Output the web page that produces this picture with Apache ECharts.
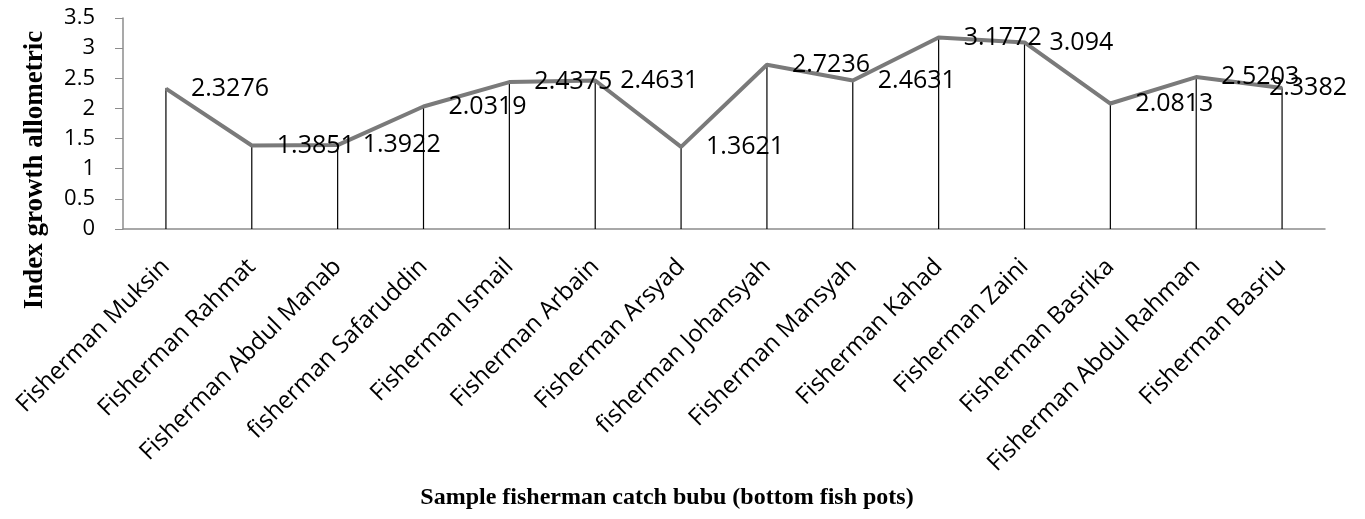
<!DOCTYPE html>
<html>
<head>
<meta charset="utf-8">
<script src="https://cdn.jsdelivr.net/npm/echarts@6/dist/echarts.min.js"></script>
<style>
  html, body { margin: 0; padding: 0; background: #fff; }
  #chart { width: 1365px; height: 519px; }
</style>
</head>
<body>
<div id="chart"></div>
<script>
// fishermen sampled (x categories)
const fishermen = [
  "Fisherman Muksin",
  "Fisherman Rahmat",
  "Fisherman Abdul Manab",
  "fisherman Safaruddin",
  "Fisherman Ismail",
  "Fisherman Arbain",
  "Fisherman Arsyad",
  "fisherman Johansyah",
  "Fisherman Mansyah",
  "Fisherman Kahad",
  "Fisherman Zaini",
  "Fisherman Basrika",
  "Fisherman Abdul Rahman",
  "Fisherman Basriu"
];

// index growth allometric (b value) per fisherman
const allometric = [
  2.3276, 1.3851, 1.3922, 2.0319, 2.4375, 2.4631, 1.3621,
  2.7236, 2.4631, 3.1772, 3.094, 2.0813, 2.5203, 2.3382
];

// y axis range
const yMin = 0;
const yMax = 3.5;
const yStep = 0.5;

const chart = echarts.init(document.getElementById("chart"));

const option = {
  animation: false,
  grid: {
    left: 123,
    right: 40,
    top: 18,
    bottom: 290
  },
  xAxis: {
    type: "category",
    data: fishermen,
    boundaryGap: true,
    axisLine: { lineStyle: { color: "#8c8c8c", width: 1.5 } },
    axisTick: { show: false },
    axisLabel: {
      interval: 0,
      rotate: 45,
      margin: 34,
      color: "#000",
      fontSize: 24,
      fontFamily: "Open Sans"
    }
  },
  yAxis: {
    type: "value",
    min: yMin,
    max: yMax,
    interval: yStep,
    axisLine: { show: true, lineStyle: { color: "#8c8c8c", width: 1.5 } },
    axisTick: { show: true, length: 8, lineStyle: { color: "#8c8c8c" } },
    splitLine: { show: false },
    axisLabel: {
      margin: 28,
      color: "#000",
      fontSize: 22,
      fontFamily: "Open Sans"
    }
  },
  graphic: [
    {
      type: "text",
      x: 35,
      y: 170,
      rotation: Math.PI / 2,
      style: {
        text: "Index growth allometric",
        fill: "#000",
        font: "bold 27px 'Liberation Serif'",
        textAlign: "center",
        textVerticalAlign: "middle"
      }
    },
    {
      type: "text",
      x: 667,
      y: 498,
      style: {
        text: "Sample fisherman catch bubu (bottom fish pots)",
        fill: "#000",
        font: "bold 24px 'Liberation Serif'",
        textAlign: "center",
        textVerticalAlign: "middle"
      }
    }
  ],
  series: [
    {
      // thin drop lines from each point down to the axis
      name: "drop",
      type: "bar",
      data: allometric,
      barWidth: 1.2,
      itemStyle: { color: "#000" },
      silent: true
    },
    {
      name: "Index growth allometric",
      type: "line",
      data: allometric,
      symbol: "circle",
      symbolSize: 2,
      itemStyle: { color: "#7a7a7a" },
      lineStyle: { color: "#7a7a7a", width: 4 },
      label: {
        show: true,
        position: "right",
        distance: 24,
        color: "#000",
        fontSize: 25,
        fontFamily: "Open Sans"
      },
      // keep labels inside the canvas, like the spreadsheet does
      labelLayout: (params) => {
        const r = params.labelRect;
        const maxRight = 1347;
        if (r.x + r.width > maxRight) {
          return {
            x: maxRight - r.width,
            y: r.y + r.height / 2,
            align: "left",
            verticalAlign: "middle"
          };
        }
        return {};
      },
      z: 3
    }
  ]
};

chart.setOption(option);
window.addEventListener("resize", () => chart.resize());
</script>
</body>
</html>
